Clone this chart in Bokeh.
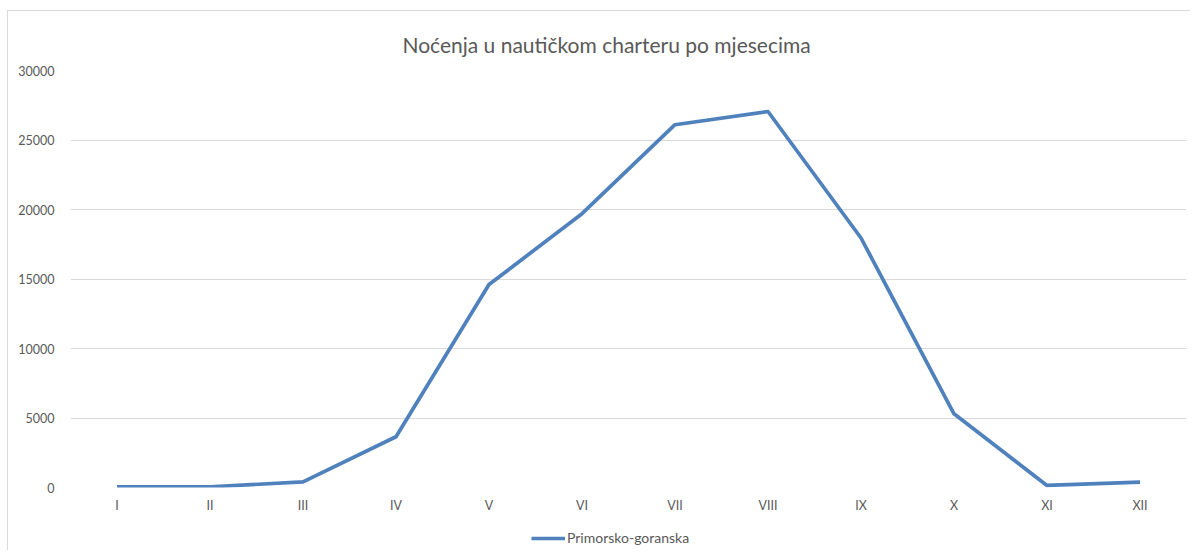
from bokeh.plotting import figure
from bokeh.layouts import column
from bokeh.models import ColumnDataSource, Legend, LegendItem, FixedTicker, Range1d
from bokeh.embed import file_html
from bokeh.resources import INLINE

months = ["I", "II", "III", "IV", "V", "VI", "VII", "VIII", "IX", "X", "XI", "XII"]
nights = [50, 50, 400, 3650, 14600, 19700, 26100, 27050, 17950, 5300, 150, 380]
series_name = "Primorsko-goranska"
title_text = "Noćenja u nautičkom charteru po mjesecima"
y_ticks = [0, 5000, 10000, 15000, 20000, 25000, 30000]

FONT = "Lato"
GREY = "#595959"
BLUE = "#4F81BD"
BORDER = "1px solid #d9d9d9"

src = ColumnDataSource(dict(x=months, y=nights))

p = figure(x_range=months, y_range=Range1d(0, 30000), width=1183, height=516,
           output_backend="svg", toolbar_location=None,
           min_border_left=62, min_border_right=5, min_border_top=59, min_border_bottom=40)
p.margin = (10, 0, 0, 7)
p.styles = {"border-top": BORDER, "border-left": BORDER}

p.title.text = title_text
p.title.align = "left"
p.title.offset = 332
p.title.text_font = FONT
p.title.text_font_size = "21px"
p.title.text_font_style = "normal"
p.title.text_color = GREY
p.title.standoff = 27

r = p.line("x", "y", source=src, line_color=BLUE, line_width=3.7, line_join="round")

p.outline_line_color = None
p.xgrid.grid_line_color = None
p.ygrid.grid_line_color = "#d9d9d9"
p.ygrid.grid_line_width = 1

p.yaxis.ticker = FixedTicker(ticks=y_ticks)
for ax in (p.xaxis[0], p.yaxis[0]):
    ax.axis_line_color = None
    ax.major_tick_line_color = None
    ax.minor_tick_line_color = None
    ax.major_label_text_font = FONT
    ax.major_label_text_font_size = "12.5px"
    ax.major_label_text_color = GREY
p.yaxis.major_label_standoff = 10
p.xaxis.major_label_standoff = 4

# legend strip below the chart (its frame is aligned with the chart's frame)
lf = figure(width=1183, height=24, x_range=Range1d(0, 1), y_range=Range1d(0, 1),
            output_backend="svg", toolbar_location=None,
            x_axis_location=None, y_axis_location=None, min_border=0)
lf.margin = (0, 0, 0, 7)
lf.styles = {"border-left": BORDER}
lf.outline_line_color = None
lf.xgrid.grid_line_color = None
lf.ygrid.grid_line_color = None
lr = lf.line(x=[-10, -9], y=[-10, -10], line_color=BLUE, line_width=3.7)

legend = Legend(items=[LegendItem(label=series_name, renderers=[lr])],
                orientation="horizontal", location=(461, 4),
                label_text_font=FONT, label_text_font_size="14px",
                label_text_color=GREY, glyph_width=34, glyph_height=10,
                label_standoff=2, padding=0, margin=0, spacing=0,
                border_line_color=None, background_fill_alpha=0)
lf.add_layout(legend, "center")

layout = column(p, lf, spacing=0)
open("out.html", "w").write(file_html(layout, INLINE))
